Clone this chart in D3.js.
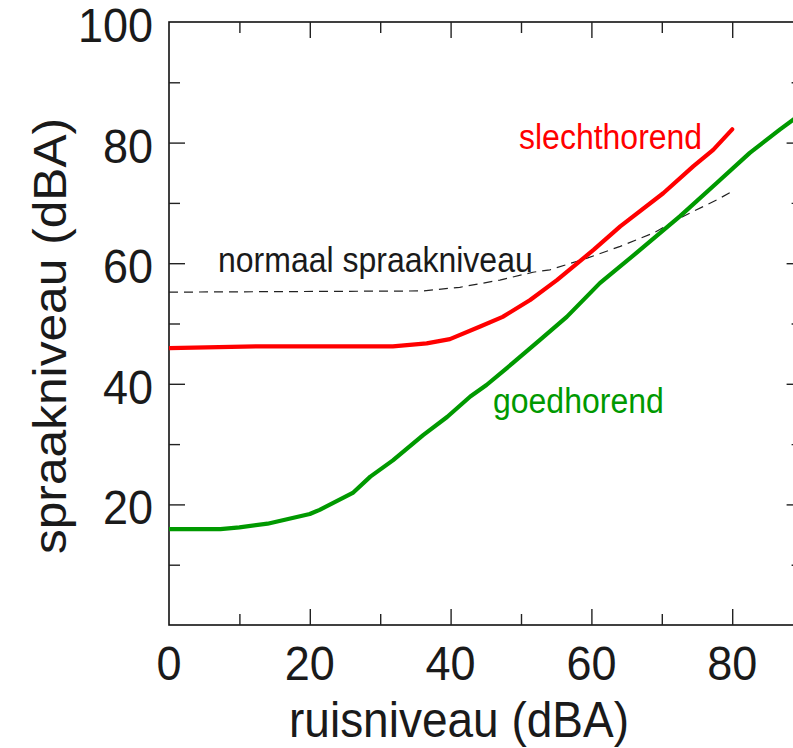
<!DOCTYPE html>
<html>
<head>
<meta charset="utf-8">
<script src="https://cdn.jsdelivr.net/npm/d3@7"></script>
<style>
  html, body { margin: 0; padding: 0; background: #fff; }
  svg { display: block; font-family: "Liberation Sans", Arial, sans-serif; }
</style>
</head>
<body>
<svg id="chart" width="793" height="748"></svg>
<script>
// ---- data ----
const xTickValues = [0, 20, 40, 60, 80];
const yTickValues = [20, 40, 60, 80, 100];
const minorX = [10, 30, 50, 70];
const minorY = [10, 30, 50, 70, 90];

const goedNoise = [0, 7.3, 10, 14, 20, 21.4, 26.1, 28.6, 31.8, 36.1, 39.5, 42.8, 45.1, 48.9, 52.7, 56.5, 61.2, 66.4, 72.6, 77.8, 82.5, 86.8, 89];
const goedSpeech = [15.9, 15.9, 16.2, 16.8, 18.4, 19.1, 21.9, 24.6, 27.3, 31.5, 34.5, 37.9, 39.8, 43.5, 47.3, 51.1, 56.7, 61.7, 67.8, 73.3, 78.3, 82.2, 84.1];

const slechtNoise = [0, 12.4, 31.8, 36.6, 39.9, 44.2, 47.4, 51.3, 55.1, 60.3, 64.1, 70.2, 74.5, 77.3, 80];
const slechtSpeech = [45.9, 46.2, 46.2, 46.7, 47.4, 49.5, 51.1, 53.9, 57.2, 62.2, 66.1, 71.6, 76.1, 78.8, 82.2];

const normNoise = [0, 36, 41.3, 47, 51.7, 54.1, 59.3, 64.1, 68.8, 73.1, 77.8, 80];
const normSpeech = [55.2, 55.4, 56.0, 57.2, 58.5, 58.9, 60.8, 62.8, 65.0, 67.8, 70.5, 71.9];

const labels = {
  x: "ruisniveau (dBA)",
  y: "spraakniveau (dBA)",
  slecht: "slechthorend",
  goed: "goedhorend",
  norm: "normaal spraakniveau"
};

// ---- layout ----
const svg = d3.select("#chart");
const x = d3.scaleLinear().domain([0, 90]).range([169, 802.6]);
const y = d3.scaleLinear().domain([0, 100]).range([625, 22]);

const tickColor = "#222";
const major = 16, minor = 11;
const stretch = 1.07;

// spines
svg.append("rect")
  .attr("x", x(0)).attr("y", y(100))
  .attr("width", x(90) - x(0)).attr("height", y(0) - y(100))
  .attr("fill", "none").attr("stroke", "#111").attr("stroke-width", 1.6);

// axes with inward ticks
const axisStyle = g => {
  g.select(".domain").remove();
  g.selectAll(".tick line").attr("stroke", tickColor).attr("stroke-width", 1.4);
  g.selectAll(".tick text").remove();
};
const addTicks = (axis, tx, ty, vals, size) =>
  svg.append("g").attr("transform", `translate(${tx},${ty})`)
    .call(axis.tickValues(vals).tickSize(size)).call(axisStyle);

addTicks(d3.axisTop(x), 0, y(0), xTickValues.slice(1), major);
addTicks(d3.axisTop(x), 0, y(0), minorX, minor);
addTicks(d3.axisBottom(x), 0, y(100), xTickValues.slice(1), major);
addTicks(d3.axisBottom(x), 0, y(100), minorX, minor);
addTicks(d3.axisRight(y), x(0), 0, yTickValues.slice(0, -1), major);
addTicks(d3.axisRight(y), x(0), 0, minorY, minor);
addTicks(d3.axisLeft(y), x(90), 0, yTickValues.slice(0, -1), major);
addTicks(d3.axisLeft(y), x(90), 0, minorY, minor);

// tick labels
svg.append("g").selectAll("text").data(xTickValues).join("text")
  .attr("transform", d => `translate(${x(d)},680) scale(1,${stretch})`)
  .attr("text-anchor", "middle")
  .attr("font-size", 45).attr("fill", "#1a1a1a")
  .text(d => d);
svg.append("g").selectAll("text").data(yTickValues).join("text")
  .attr("transform", d => `translate(153,${y(d) + 20}) scale(1,${stretch})`)
  .attr("text-anchor", "end")
  .attr("font-size", 45).attr("fill", "#1a1a1a")
  .text(d => d);

// axis titles
svg.append("text")
  .attr("transform", `translate(459,737) scale(1,${stretch})`)
  .attr("text-anchor", "middle")
  .attr("font-size", 46).attr("fill", "#1a1a1a")
  .text(labels.x);
svg.append("text")
  .attr("transform", "translate(66,336) rotate(-90) scale(1.08,1)")
  .attr("text-anchor", "middle")
  .attr("font-size", 46).attr("fill", "#1a1a1a")
  .text(labels.y);

// lines
svg.append("clipPath").attr("id", "plotclip").append("rect")
  .attr("x", x(0)).attr("y", y(100)).attr("width", x(90) - x(0)).attr("height", y(0) - y(100));

const line = d3.line().x(d => x(d[0])).y(d => y(d[1]));
const plot = svg.append("g").attr("clip-path", "url(#plotclip)");

plot.append("path")
  .attr("d", line(d3.zip(normNoise, normSpeech)))
  .attr("fill", "none").attr("stroke", "#222").attr("stroke-width", 1.2)
  .attr("stroke-dasharray", "9,6");
plot.append("path")
  .attr("d", line(d3.zip(goedNoise, goedSpeech)))
  .attr("fill", "none").attr("stroke", "#009900").attr("stroke-width", 4.2)
  .attr("stroke-linejoin", "round").attr("stroke-linecap", "round");
plot.append("path")
  .attr("d", line(d3.zip(slechtNoise, slechtSpeech)))
  .attr("fill", "none").attr("stroke", "#ff0000").attr("stroke-width", 4.2)
  .attr("stroke-linejoin", "round").attr("stroke-linecap", "round");

// annotations
const annot = (txt, tx, ty, color) => svg.append("text")
  .attr("transform", `translate(${tx},${ty}) scale(1,${stretch})`)
  .attr("font-size", 32).attr("fill", color).text(txt);
annot(labels.slecht, 519, 149, "#ff0000");
annot(labels.goed, 493, 413, "#009900");
annot(labels.norm, 218, 272, "#1a1a1a");
</script>
</body>
</html>
